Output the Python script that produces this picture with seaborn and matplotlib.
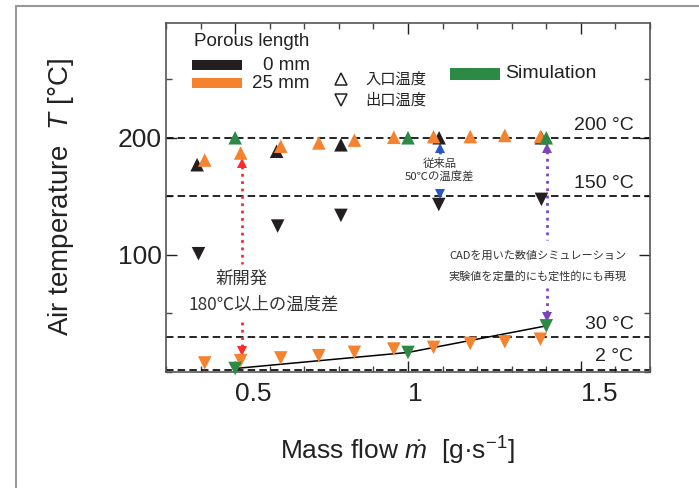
import numpy as np
import pandas as pd
import matplotlib
matplotlib.use('Agg')
import matplotlib.pyplot as plt
import seaborn as sns
from matplotlib.lines import Line2D
from matplotlib.patches import Rectangle
from matplotlib.ticker import MultipleLocator

# stile + font (dopo set_style)
sns.set_style('ticks')
plt.rcParams['font.family'] = ['Liberation Sans', 'Noto Sans CJK JP', 'DejaVu Sans']
plt.rcParams['mathtext.fontset'] = 'custom'
plt.rcParams['mathtext.rm'] = 'Liberation Sans'
plt.rcParams['mathtext.it'] = 'Liberation Sans:italic'

# dati
flow_0mm_in = [0.39, 0.62, 0.806, 1.09, 1.386]
temp_0mm_in = [177, 188.5, 194, 200, 200]
flow_0mm_out = [0.394, 0.623, 0.806, 1.089, 1.386]
temp_0mm_out = [101, 124.6, 133.7, 143, 147.4]

flow_25mm = [0.412, 0.516, 0.632, 0.742, 0.845, 0.959, 1.074, 1.18, 1.28, 1.383]
temp_25mm_in = [181, 187, 192.8, 195.6, 198, 200.4, 201, 201, 202, 201]
temp_25mm_out = [7.7, 9.7, 12, 13.9, 16.8, 19.6, 21, 24.4, 25.8, 28]

flow_sim = [0.5, 1.0, 1.4]
temp_sim_in = [200, 200, 200]
temp_sim_out = [3, 16.7, 39.4]

ref_lines = [200, 150, 30, 2]
ref_labels = ['200 °C', '150 °C', '30 °C', '2 °C']

# frecce tratteggiate: x, punta alta, punta bassa, interruzione (alto, basso)
arrow_x = [0.519, 1.094, 1.403]
arrow_top = [181, 194, 194]
arrow_bottom = [15, 149, 44]
gap_top = [92, 184, 113]
gap_bottom = [43, 156, 72]
arrow_colors = ['#ff2a2a', '#2456c8', '#7b45c0']

c_black = '#231f20'
c_orange = '#f5822e'
c_green = '#2c8a45'

rows = []
for f, t in zip(flow_0mm_in, temp_0mm_in):
    rows.append((f, t, '0 mm', 'in'))
for f, t in zip(flow_0mm_out, temp_0mm_out):
    rows.append((f, t, '0 mm', 'out'))
for f, t in zip(flow_25mm, temp_25mm_in):
    rows.append((f, t, '25 mm', 'in'))
for f, t in zip(flow_25mm, temp_25mm_out):
    rows.append((f, t, '25 mm', 'out'))
for f, t in zip(flow_sim, temp_sim_in):
    rows.append((f, t, 'Simulation', 'in'))
for f, t in zip(flow_sim, temp_sim_out):
    rows.append((f, t, 'Simulation', 'out'))
df = pd.DataFrame(rows, columns=['flow', 'temp', 'series', 'kind'])

fig = plt.figure(figsize=(6.99, 4.88), dpi=100)
ax = fig.add_axes([166/699, 1-372/488, 484/699, 349/488])

# linee di riferimento
for v in ref_lines:
    ax.axhline(v, color='black', lw=1.2, ls=(0, (4.5, 2.5)), zorder=2, clip_on=False)
for v, lab in zip(ref_lines, ref_labels):
    ax.annotate(lab, xy=(1.652, v), xytext=(0, 3), textcoords='offset points',
                ha='right', va='bottom', fontsize=14, color='#222222')

# linea simulazione (uscita)
sns.lineplot(x=flow_sim, y=temp_sim_out, color='black', lw=1.1, ax=ax, zorder=3)

sns.scatterplot(data=df, x='flow', y='temp', hue='series', style='kind',
                palette={'0 mm': c_black, '25 mm': c_orange, 'Simulation': c_green},
                markers={'in': '^', 'out': 'v'}, s=95, linewidth=0,
                legend=False, ax=ax, zorder=4, clip_on=False)

# frecce
for x, top, bot, g1, g2, c in zip(arrow_x, arrow_top, arrow_bottom, gap_top, gap_bottom, arrow_colors):
    ax.plot([x, x], [top - 5, g1], ls=':', lw=2, color=c, zorder=3)
    ax.plot([x, x], [g2, bot + 5], ls=':', lw=2, color=c, zorder=3)
    ax.plot([x], [top - 2.6], marker='^', ms=6.5, color=c, mew=0, ls='none', zorder=3)
    ax.plot([x], [bot + 2.6], marker='v', ms=6.5, color=c, mew=0, ls='none', zorder=3)

jp = ['Noto Sans CJK JP', 'DejaVu Sans']
ax.text(0.517, 80, '新開発', ha='center', va='center', fontsize=12.5, family=jp, color='#333333')
ax.text(0.584, 58, '180℃以上の温度差', ha='center', va='center', fontsize=12.5, family=jp, color='#333333')
ax.text(1.091, 178, '従来品', ha='center', va='center', fontsize=8.2, family=jp, color='#333333')
ax.text(1.091, 167, '50℃の温度差', ha='center', va='center', fontsize=8.2, family=jp, color='#333333')
ax.text(1.375, 99.7, 'CADを用いた数値シミュレーション', ha='center', va='center', fontsize=8, family=jp, color='#333333')
ax.text(1.375, 81.8, '実験値を定量的にも定性的にも再現', ha='center', va='center', fontsize=8, family=jp, color='#333333')

# assi
ax.set_xlim(0.3, 1.7)
ax.set_ylim(0, 298)
ax.set_xticks([0.5, 1.0, 1.5])
ax.set_xticklabels(['0.5', '1', '1.5'], ha='left')
ax.set_yticks([100, 200])
ax.xaxis.set_minor_locator(MultipleLocator(0.1))
ax.yaxis.set_minor_locator(MultipleLocator(50))
ax.tick_params(which='both', direction='in', top=True, right=True, color='#444444')
ax.tick_params(which='major', length=8, width=1)
ax.tick_params(which='minor', length=4.5, width=1)
ax.tick_params(axis='x', labelsize=19, pad=7, colors='#222222')
ax.tick_params(axis='y', labelsize=19, pad=3, colors='#222222')
for sp in ax.spines.values():
    sp.set_color('#555555')
    sp.set_linewidth(1.2)

ax.set_xlabel(r'Mass flow $\dot{m}$  [g·s$^{-1}$]', fontsize=19, color='#222222')
ax.set_ylabel(r'Air temperature  $T$ [°C]', fontsize=20, color='#222222')
ax.xaxis.set_label_coords(0.477, -0.18)
ax.yaxis.set_label_coords(-0.185, 0.5)

# legenda manuale (pixel della figura)
def fxy(px, py):
    return px / 699, 1 - py / 488

fig.text(*fxy(252, 42), 'Porous length', ha='center', va='center', fontsize=13.5, color='#222222')
for py, c, lab in [(65, c_black, '0 mm'), (83, c_orange, '25 mm')]:
    fig.add_artist(Rectangle(fxy(192, py + 5), 50/699, 10/488, transform=fig.transFigure,
                             color=c, lw=0))
    fig.text(*fxy(310, py), lab, ha='right', va='center', fontsize=13.5, color='#222222')
fig.add_artist(Rectangle(fxy(450, 79.5), 50/699, 11/488, transform=fig.transFigure,
                         color=c_green, lw=0))
fig.text(*fxy(505, 74), 'Simulation', ha='left', va='center', fontsize=14, color='#222222')
for py, m, lab in [(79, '^', '入口温度'), (100, 'v', '出口温度')]:
    fig.add_artist(Line2D([340.7/699], [1 - py/488], marker=m, ms=9, mfc='white', mec='#222222',
                          mew=1.1, ls='none', transform=fig.transFigure))
    fig.text(*fxy(365, py), lab, ha='left', va='center', fontsize=11, family=jp, color='#222222')

# cornice grigia
fig.add_artist(Line2D([16/699, 16/699], [0, 1 - 6/488], transform=fig.transFigure, color='#999999', lw=1.5))
fig.add_artist(Line2D([16/699, 1], [1 - 6/488, 1 - 6/488], transform=fig.transFigure, color='#999999', lw=1.5))

fig.savefig('out.png', dpi=100)
